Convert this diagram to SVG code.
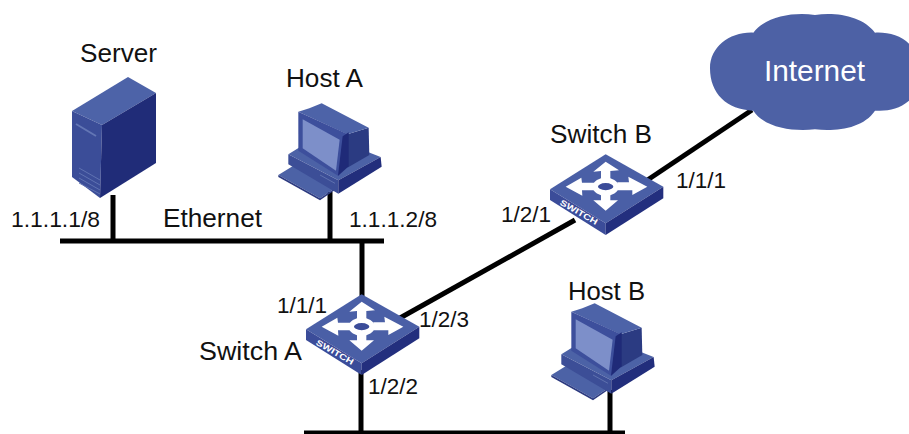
<svg xmlns="http://www.w3.org/2000/svg" width="909" height="434" viewBox="0 0 909 434">
<style>
text{font-family:"Liberation Sans",Arial,sans-serif;fill:#111}
.l{font-size:25px}
.p{font-size:22.5px}
.w{stroke:#000;stroke-width:5;fill:none}
.a{fill:#fff;stroke:none}
.sw{font-size:25px;font-weight:bold;fill:#fff}
</style>
<defs>
<g id="host">
<path d="M25,240L70,212L195,280L150,310Z" fill="#4c62a6"/>
<path d="M25,240L150,310L150,316L25,246Z" fill="#2c3a80"/>
<path d="M150,310L195,280L195,285L150,316Z" fill="#2c3a80"/>
<path d="M55,178L100,150L240,150L332,186L205,256Z" fill="#4c62a6"/>
<path d="M55,178L205,256L205,296L55,208Z" fill="#3c4e97"/>
<path d="M205,256L332,186L335,215L205,296Z" fill="#222e7c"/>
<path d="M150,240L195,265" stroke="#6f82ba" stroke-width="2"/>
<path d="M232,118L296,98L298,180L232,218Z" fill="#2b3b82"/>
<path d="M85,50L118,40L155,25L296,98L232,118Z" fill="#4d63a8"/>
<path d="M85,50L234,118L234,215L205,243L85,167Z" fill="#3d4f9c"/>
<path d="M218,124L236,112L236,214L204,242Z" fill="#1f2a78"/>
<path d="M98,73L209,134L198,227L98,160Z" fill="#7d8fc9"/>
</g>
<g id="switch">
<path d="M18,133L185,28L358,125L185,235Z" fill="#4a5fa6"/>
<path d="M18,133L185,235L185,270L18,165Z" fill="#3b4c99"/>
<path d="M185,235L358,125L358,160L185,270Z" fill="#232f7e"/>
<path class="a" d="M185,50L225,76L199,78L199,104L171,104L171,78L148,80Z"/>
<path class="a" d="M310,125L265,150L265,136L220,136L220,112L255,112L253,95Z"/>
<path class="a" d="M185,197L148,166L171,166L171,146L199,146L199,166L222,166Z"/>
<path class="a" d="M65,125L112,98L114,113L150,113L150,136L114,136L115,152Z"/>
<ellipse cx="185" cy="125" rx="31" ry="19" fill="#3b4c99" stroke="#fff" stroke-width="16"/>
<text class="sw" transform="matrix(.87 .5 -.5 .87 46 178)" textLength="125" lengthAdjust="spacingAndGlyphs">SWITCH</text>
</g>
</defs>
<g id="connectors">
<path class="w" d="M60,241H384"/>
<path class="w" d="M113,195V241"/>
<path class="w" d="M330,192V241"/>
<path class="w" d="M362,241V296"/>
<path class="w" d="M400,318L575,220"/>
<path class="w" d="M640,185L752,110"/>
<path class="w" d="M361,370V434"/>
<path class="w" d="M610,390V434"/>
<path class="w" d="M304,433H625"/>
</g>
<g id="server">
<path d="M72,111L128,77L156,93L102,125Z" fill="#4d63a8"/>
<path d="M72,111L102,125L100,198L72,177Z" fill="#3b4d98"/>
<path d="M102,125L156,93L156,163L100,198Z" fill="#202c78"/>
<path d="M76,124L96,136" stroke="#6376b4" stroke-width="2" fill="none"/>
<path d="M79,168L100,180M79,173L100,185M79,178L100,190M79,183L100,194" stroke="#5f72b2" stroke-width="1" fill="none"/>
<text class="l" x="80" y="62" textLength="77" lengthAdjust="spacingAndGlyphs">Server</text>
</g>
<g id="hostA">
<use href="#host" transform="translate(270,95) scale(.3333)"/>
<text class="l" x="286" y="87" textLength="77" lengthAdjust="spacingAndGlyphs">Host A</text>
</g>
<g id="hostB">
<use href="#host" transform="translate(543,295) scale(.3333)"/>
<text class="l" x="568" y="300" textLength="77" lengthAdjust="spacingAndGlyphs">Host B</text>
</g>
<g id="switchA">
<use href="#switch" transform="translate(300,285) scale(.3333)"/>
<text class="l" x="199" y="360" textLength="103" lengthAdjust="spacingAndGlyphs">Switch A</text>
</g>
<g id="switchB">
<use href="#switch" transform="translate(544,145) scale(.3333)"/>
<text class="l" x="550" y="143" textLength="102" lengthAdjust="spacingAndGlyphs">Switch B</text>
</g>
<g id="internet">
<path d="M160,98C195,50 280,35 345,45C410,35 490,50 525,98C575,95 630,115 645,160V285C610,325 570,335 525,332C490,385 410,395 345,388C280,395 195,385 160,332C80,330 30,280 30,205C30,140 90,95 160,98Z" fill="#4d61a5" transform="translate(700,0) scale(.3333)"/>
<text x="764" y="81" font-size="29" style="fill:#fff" textLength="101" lengthAdjust="spacingAndGlyphs">Internet</text>
</g>
<g id="labels">
<text class="l" x="163" y="227" textLength="99" lengthAdjust="spacingAndGlyphs">Ethernet</text>
<text class="p" x="11" y="227" textLength="89" lengthAdjust="spacingAndGlyphs">1.1.1.1/8</text>
<text class="p" x="349" y="227" textLength="88" lengthAdjust="spacingAndGlyphs">1.1.1.2/8</text>
<text class="p" x="277" y="313">1/1/1</text>
<text class="p" x="419" y="327">1/2/3</text>
<text class="p" x="368" y="394">1/2/2</text>
<text class="p" x="501" y="222">1/2/1</text>
<text class="p" x="676" y="188">1/1/1</text>
</g>
</svg>
